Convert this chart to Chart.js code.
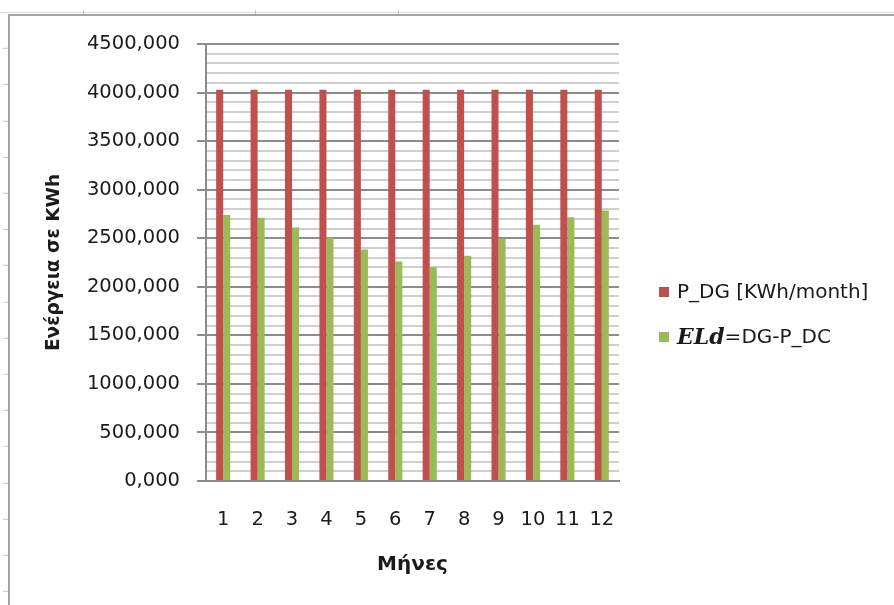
<!DOCTYPE html>
<html>
<head>
<meta charset="utf-8">
<script src="https://cdn.jsdelivr.net/npm/chart.js@4/dist/chart.umd.min.js"></script>
<style>
  html, body { margin: 0; padding: 0; background: #fff; width: 894px; height: 605px; overflow: hidden; }
  #sheetTop { position: absolute; left: 0; top: 12px; width: 894px; height: 1px; background: #d3dae5; }
  #frame { position: absolute; left: 8px; top: 14px; width: 900px; height: 600px;
           border-left: 2px solid #a3a3a3; border-top: 2px solid #a3a3a3; }
  #rowMarks { position: absolute; left: 3px; top: 16px; width: 5px; height: 589px;
              background: repeating-linear-gradient(to bottom, transparent 0, transparent 35.2px, #c4c4c4 35.2px, #c4c4c4 36.2px);
              background-position: 0 -3.2px; }
  .colMark { position: absolute; top: 10px; width: 1px; height: 4px; background: #c4c4c4; }
  #wrap { position: absolute; left: 0; top: 0; width: 894px; height: 605px; }
</style>
</head>
<body>
<div id="sheetTop"></div>
<div class="colMark" style="left:83px"></div>
<div class="colMark" style="left:255px"></div>
<div class="colMark" style="left:398px"></div>
<div id="frame"></div>
<div id="rowMarks"></div>
<div id="wrap"><canvas id="chart" width="894" height="605"></canvas></div>
<script>
// Monthly energy: diesel generator output and the load it still has to cover
const months = ['1', '2', '3', '4', '5', '6', '7', '8', '9', '10', '11', '12'];
const pDG = [4030, 4030, 4030, 4030, 4030, 4030, 4030, 4030, 4030, 4030, 4030, 4030];
const eLd = [2740, 2710, 2610, 2505, 2385, 2260, 2200, 2320, 2495, 2640, 2715, 2785];
const yTickLabels = ['0,000', '500,000', '1000,000', '1500,000', '2000,000',
                     '2500,000', '3000,000', '3500,000', '4000,000', '4500,000'];
const seriesNames = ['P_DG [KWh/month]', 'ELd=DG-P_DC'];
// legend text pieces; the symbol part is set in a bold italic serif face
const legendParts = [
  [{ text: 'P_DG [KWh/month]' }],
  [{ text: 'ELd', math: true }, { text: '=DG-P_DC' }]
];
const seriesColors = ['#C0504D', '#9BBB59'];

const textColor = '#1a1a1a';
const majorGrid = '#8c8c8c';
const minorGrid = '#cfcfcf';

const sideLegend = {
  id: 'sideLegend',
  afterDraw(chart) {
    const ctx = chart.ctx;
    const area = chart.chartArea;
    const boxX = area.right + 40;
    const textX = boxX + 18;
    const firstY = 292;
    const rowGap = 45;
    ctx.save();
    ctx.textBaseline = 'middle';
    ctx.textAlign = 'left';
    chart.data.datasets.forEach((ds, i) => {
      const y = firstY + i * rowGap;
      ctx.fillStyle = ds.backgroundColor;
      ctx.fillRect(boxX, y - 5, 10, 10);
      let x = textX;
      legendParts[i].forEach(part => {
        ctx.font = part.math ? 'italic bold 22px "DejaVu Serif"' : '20px "DejaVu Sans"';
        ctx.fillStyle = textColor;
        ctx.fillText(part.text, x, y + 1);
        x += ctx.measureText(part.text).width;
      });
    });
    ctx.restore();
  }
};

new Chart(document.getElementById('chart'), {
  type: 'bar',
  data: {
    labels: months,
    datasets: [
      { label: seriesNames[0], data: pDG, backgroundColor: seriesColors[0] },
      { label: seriesNames[1], data: eLd, backgroundColor: seriesColors[1] }
    ]
  },
  options: {
    responsive: false,
    animation: false,
    devicePixelRatio: 1,
    layout: { padding: { left: 0, right: 275, top: 44, bottom: 0 } },
    datasets: { bar: { categoryPercentage: 0.41, barPercentage: 1.0 } },
    plugins: { legend: { display: false }, tooltip: { enabled: false } },
    scales: {
      x: {
        grid: { display: false, drawTicks: false },
        border: { display: true, color: majorGrid, width: 2 },
        ticks: { font: { family: 'DejaVu Sans', size: 19.5 }, color: textColor, padding: 27, maxRotation: 0, autoSkip: false },
        title: { display: true, text: 'Μήνες', color: textColor,
                 font: { family: 'DejaVu Sans', size: 20, weight: 'bold' }, padding: { top: 0, bottom: 28 } },
        afterFit: s => { s.height = 124; }
      },
      y: {
        min: 0, max: 4500,
        ticks: { stepSize: 500, callback: (v, i) => yTickLabels[i], color: textColor,
                 font: { family: 'DejaVu Sans', size: 19.5 }, padding: 17 },
        grid: { color: majorGrid, lineWidth: 2, tickLength: 9, drawTicks: true },
        border: { color: majorGrid, width: 2 },
        title: { display: true, text: 'Ενέργεια σε KWh', color: textColor,
                 font: { family: 'DejaVu Sans', size: 18.5, weight: 'bold' }, padding: { top: 43, bottom: 0 } },
        afterFit: s => { s.width = 206; }
      },
      yMinor: {
        position: 'right',
        min: 0, max: 4500,
        ticks: { display: false, stepSize: 100, autoSkip: false },
        grid: {
          color: c => (c.tick && c.tick.value % 500 === 0) ? 'rgba(0,0,0,0)' : minorGrid,
          lineWidth: 2, drawTicks: false
        },
        border: { display: false },
        afterFit: s => { s.width = 0; }
      }
    }
  },
  plugins: [sideLegend]
});
</script>
</body>
</html>
